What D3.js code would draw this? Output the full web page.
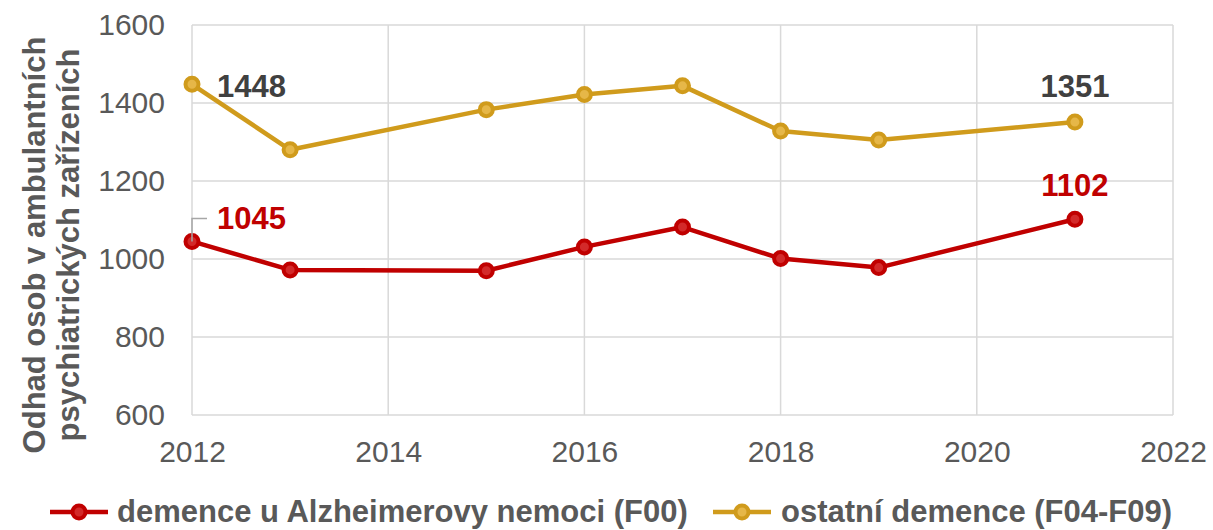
<!DOCTYPE html>
<html><head><meta charset="utf-8">
<script src="https://cdn.jsdelivr.net/npm/d3@7"></script>
<style>
body{margin:0;background:#fff;font-family:"Liberation Sans",Arial,sans-serif}
</style></head><body><div id="chart"></div>
<script>
const years=[2012,2013,2015,2016,2017,2018,2019,2021];
const alzheimer=[1045,972,970,1031,1082,1001,978,1102];
const ostatni=[1448,1280,1383,1422,1444,1328,1305,1351];
const xTicks=[2012,2014,2016,2018,2020,2022];
const yTicks=[600,800,1000,1200,1400,1600];
const seriesNames=["demence u Alzheimerovy nemoci (F00)","ostatní demence (F04-F09)"];

const W=1213,H=530;
const m={left:192,right:40,top:25,bottom:115};
const svg=d3.select("#chart").append("svg").attr("width",W).attr("height",H);
const x=d3.scaleLinear().domain([2012,2022]).range([m.left,1173]);
const y=d3.scaleLinear().domain([600,1600]).range([415,m.top]);

// grid
svg.append("g").selectAll("line").data(yTicks).join("line")
  .attr("x1",x(2012)).attr("x2",x(2022)).attr("y1",d=>y(d)).attr("y2",d=>y(d))
  .attr("stroke","#d9d9d9").attr("stroke-width",1.5);
svg.append("g").selectAll("line").data(xTicks).join("line")
  .attr("x1",d=>x(d)).attr("x2",d=>x(d)).attr("y1",y(600)).attr("y2",y(1600))
  .attr("stroke","#d9d9d9").attr("stroke-width",1.5);

// axes labels
const ff="Liberation Sans, Arial, sans-serif";
svg.append("g").attr("transform",`translate(${x(2012)},0)`)
  .call(d3.axisLeft(y).tickValues(yTicks).tickFormat(d3.format("d")).tickSize(0).tickPadding(27))
  .call(s=>s.select(".domain").remove())
  .call(s=>s.selectAll("text").attr("fill","#595959").attr("font-size",30).attr("font-family",ff));
svg.append("g").attr("transform",`translate(0,${y(600)})`)
  .call(d3.axisBottom(x).tickValues(xTicks).tickFormat(d3.format("d")).tickSize(0).tickPadding(26))
  .call(s=>s.select(".domain").remove())
  .call(s=>s.selectAll("text").attr("fill","#595959").attr("font-size",30).attr("font-family",ff));

// y title
const yt=svg.append("text").attr("transform","translate(45,245) rotate(-90)")
  .attr("text-anchor","middle").attr("fill","#595959").attr("font-size",31).attr("font-weight","bold");
yt.append("tspan").attr("x",0).attr("dy",0).text("Odhad osob v ambulantních");
yt.append("tspan").attr("x",0).attr("dy",34).text("psychiatrických zařízeních");

const series=[
  {name:seriesNames[0],values:alzheimer,color:"#c00000",inner:"#d32a2a"},
  {name:seriesNames[1],values:ostatni,color:"#d09b1c",inner:"#e6b748"}
];
const line=d3.line().x(d=>x(d[0])).y(d=>y(d[1]));
series.forEach(s=>{
  const pts=years.map((yr,i)=>[yr,s.values[i]]);
  svg.append("path").datum(pts).attr("d",line).attr("fill","none")
    .attr("stroke",s.color).attr("stroke-width",4.5).attr("stroke-linejoin","round");
  svg.append("g").selectAll("circle").data(pts).join("circle")
    .attr("cx",d=>x(d[0])).attr("cy",d=>y(d[1])).attr("r",6.5)
    .attr("fill",s.inner).attr("stroke",s.color).attr("stroke-width",4);
});

// data labels
const lab=(t,px,py,col,anchor)=>svg.append("text").attr("x",px).attr("y",py)
  .attr("text-anchor",anchor).attr("fill",col).attr("font-size",31).attr("font-weight","bold").text(t);
lab(ostatni[0],x(years[0])+25,y(ostatni[0])+13,"#404040","start");
lab(ostatni[7],x(years[7]),y(ostatni[7])-25,"#404040","middle");
lab(alzheimer[7],x(years[7]),y(alzheimer[7])-23,"#c00000","middle");
lab(alzheimer[0],x(years[0])+25,y(alzheimer[0])-12,"#c00000","start");
// leader line for 1045
svg.append("path")
  .attr("d",`M${x(2012)},${y(alzheimer[0])} L${x(2012)},${y(alzheimer[0])-23} L${x(2012)+15},${y(alzheimer[0])-23}`)
  .attr("fill","none").attr("stroke","#a6a6a6").attr("stroke-width",1.5);

// legend
const lg=svg.append("g").attr("transform","translate(0,512)");
const items=[{s:series[0],x0:50,tx:117},{s:series[1],x0:713,tx:781}];
items.forEach(it=>{
  lg.append("line").attr("x1",it.x0).attr("x2",it.x0+58).attr("y1",0).attr("y2",0)
    .attr("stroke",it.s.color).attr("stroke-width",4.5);
  lg.append("circle").attr("cx",it.x0+29).attr("cy",0).attr("r",6.5)
    .attr("fill",it.s.inner).attr("stroke",it.s.color).attr("stroke-width",4);
  lg.append("text").attr("x",it.tx).attr("y",10).attr("fill","#595959")
    .attr("font-size",31).attr("font-weight","bold").text(it.s.name);
});
</script></body></html>
